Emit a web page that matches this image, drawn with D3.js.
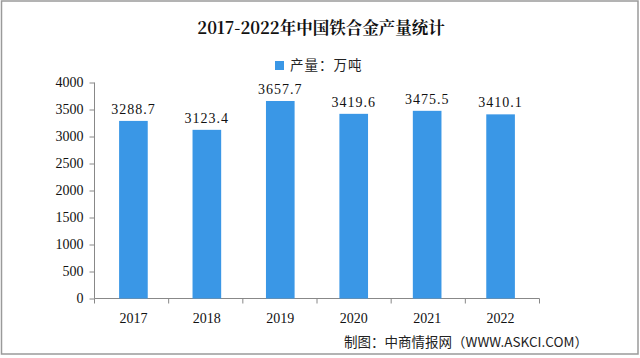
<!DOCTYPE html>
<html lang="zh-CN"><head><meta charset="utf-8">
<script src="https://cdn.jsdelivr.net/npm/d3@7"></script>
<style>body{margin:0;background:#fff;}svg{display:block;}</style>
</head><body><svg id="c" width="640" height="358"></svg>
<script>
const categories = ["2017","2018","2019","2020","2021","2022"];
const values = [3288.7, 3123.4, 3657.7, 3419.6, 3475.5, 3410.1];
const valueLabels = ["3288.7","3123.4","3657.7","3419.6","3475.5","3410.1"];
const yTicks = [0,500,1000,1500,2000,2500,3000,3500,4000];
const title = "2017-2022年中国铁合金产量统计";
const legendText = "产量：万吨";
const sourceText = "制图：中商情报网（WWW.ASKCI.COM）";

const svg = d3.select("#c");
svg.append("rect").attr("x",1.5).attr("y",1).attr("width",636.5).attr("height",353)
  .attr("fill","#fff").attr("stroke","#9a9a9a").attr("stroke-width",1.5);

const x = d3.scaleBand().domain(categories).range([94.5,539.5]).paddingInner(0.61).paddingOuter(0.335);
const y = d3.scaleLinear().domain([0,4000]).range([298.5,82.5]);
const barColor = "#3a97e6";

svg.append("text").attr("x",321).attr("y",34).attr("text-anchor","middle")
  .attr("font-family","'Noto Serif CJK SC','Noto Sans CJK SC',serif").attr("font-weight","bold")
  .attr("font-size",16.5).attr("fill","#111").text(title);

svg.append("rect").attr("x",275).attr("y",61).attr("width",9).attr("height",9).attr("fill",barColor);
svg.append("text").attr("x",290).attr("y",70).attr("font-family","'Noto Sans CJK SC',sans-serif")
  .attr("font-size",13.5).attr("letter-spacing",1).attr("fill","#222").text(legendText);

// y axis
const yAxis = d3.axisLeft(y).tickValues(yTicks).tickSize(5).tickPadding(6).tickFormat(d3.format("d"));
const gy = svg.append("g").attr("transform","translate(94.5,0)").call(yAxis);
gy.selectAll("text").attr("font-family","'Liberation Serif',serif").attr("font-size",14).attr("fill","#111");
gy.selectAll("line").attr("stroke","#888");
gy.select(".domain").attr("stroke","#888").attr("d","M0,82.5V298.5");

// x axis
const gx = svg.append("g").attr("transform","translate(0,298.5)");
gx.append("line").attr("x1",94.5).attr("x2",539.5).attr("stroke","#888");
const bounds = d3.range(categories.length+1).map(i=>94.5+i*(445/categories.length));
gx.selectAll("line.t").data(bounds).join("line").attr("class","t")
  .attr("x1",d=>d).attr("x2",d=>d).attr("y1",0).attr("y2",5).attr("stroke","#888");
gx.selectAll("text").data(categories).join("text")
  .attr("x",d=>x(d)+x.bandwidth()/2).attr("y",24).attr("text-anchor","middle")
  .attr("font-family","'Liberation Serif',serif").attr("font-size",14).attr("fill","#111").text(d=>d);

// bars
svg.selectAll("rect.bar").data(values).join("rect").attr("class","bar")
  .attr("x",(d,i)=>x(categories[i])).attr("width",x.bandwidth())
  .attr("y",d=>y(d)).attr("height",d=>y(0)-y(d)).attr("fill",barColor);

svg.selectAll("text.val").data(values).join("text").attr("class","val")
  .attr("x",(d,i)=>x(categories[i])+x.bandwidth()/2).attr("y",d=>y(d)-7)
  .attr("text-anchor","middle").attr("font-family","'Liberation Serif',serif")
  .attr("font-size",14).attr("letter-spacing",1).attr("fill","#111").text((d,i)=>valueLabels[i]);

svg.append("text").attr("x",588).attr("y",354).attr("text-anchor","end")
  .attr("font-family","'Noto Sans CJK SC',sans-serif").attr("font-size",13.5).attr("fill","#222")
  .attr("dy","-0.5em").text(sourceText);
</script></body></html>
